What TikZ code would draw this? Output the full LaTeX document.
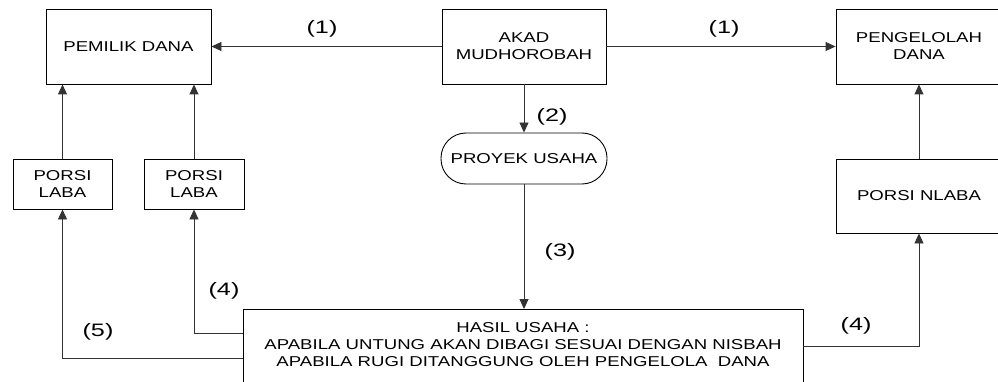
\documentclass[tikz,border=0pt]{standalone}
\usepackage{fontspec}
\setmainfont{Liberation Sans}[FakeStretch=1.3]
\newfontfamily\lblfont{Liberation Sans}[FakeStretch=1.4]
\usetikzlibrary{arrows.meta}
\tikzset{
  box/.style={draw=black, line width=0.9pt, fill=white, inner sep=0pt, align=center,
    font=\fontsize{14.3}{17}\selectfont},
  conn/.style={draw=black!80, line width=0.9pt, -{Triangle[length=10pt,width=9pt]}},
  lbl/.style={font=\lblfont\fontsize{18}{20}\selectfont, inner sep=0pt},
  txt/.style={align=center, font=\fontsize{14.3}{17}\selectfont, inner sep=0pt}
}
\begin{document}
\begin{tikzpicture}[x=1pt,y=-1pt]
\useasboundingbox (0,0) rectangle (998,382);
\clip (0,0) rectangle (998,382);
\fill[white] (0,0) rectangle (998,382);

\node[box, minimum width=165pt, minimum height=75pt] (pemilik) at (128.5,46.5) {PEMILIK DANA};
\node[box, minimum width=164pt, minimum height=75pt] (akad) at (524,46.5) {AKAD\\MUDHOROBAH};
\node[box, minimum width=166pt, minimum height=75pt] (pengelolah) at (919,46.5) {PENGELOLAH\\DANA};
\node[box, minimum width=166pt, minimum height=51pt, rounded corners=25pt] (proyek) at (524,158.5) {PROYEK USAHA};
\node[box, minimum width=99pt, minimum height=50pt] (porsiA) at (62.5,184) {PORSI\\LABA};
\node[box, minimum width=100pt, minimum height=50pt] (porsiB) at (194,184) {PORSI\\LABA};
\node[box, minimum width=166pt, minimum height=74pt] (porsiN) at (919,196) {PORSI NLABA};
\node[box, minimum width=560pt, minimum height=100pt, anchor=north] (hasil) at (523,309) {};
\node[txt] (hasiltext) at (523,345) {HASIL USAHA :\\APABILA UNTUNG AKAN DIBAGI SESUAI DENGAN NISBAH\\APABILA RUGI DITANGGUNG OLEH PENGELOLA\ \ DANA};

\draw[conn] (akad.west) -- (pemilik.east);
\draw[conn] (akad.east) -- (pengelolah.west);
\draw[conn] (akad.south) -- (proyek.north);
\draw[conn] (proyek.south) -- (proyek.south |- hasil.north);
\draw[conn] (porsiA.north) -- (porsiA.north |- pemilik.south);
\draw[conn] (porsiB.north) -- (porsiB.north |- pemilik.south);
\draw[conn] (porsiN.north) -- (pengelolah.south);
\draw[conn] ([yshift=-24pt]hasil.north west) -| (porsiB.south);
\draw[conn] ([yshift=-49pt]hasil.north west) -| (porsiA.south);
\draw[conn] ([yshift=-37pt]hasil.north east) -| (porsiN.south);

\node[lbl] (l1a) at (322,29) {(1)};
\node[lbl] (l1b) at (724,29) {(1)};
\node[lbl] (l2) at (552,117) {(2)};
\node[lbl] (l3) at (560,252) {(3)};
\node[lbl] (l4a) at (224,291) {(4)};
\node[lbl] (l5) at (98,332) {(5)};
\node[lbl] (l4b) at (856,326) {(4)};
\end{tikzpicture}
\end{document}
